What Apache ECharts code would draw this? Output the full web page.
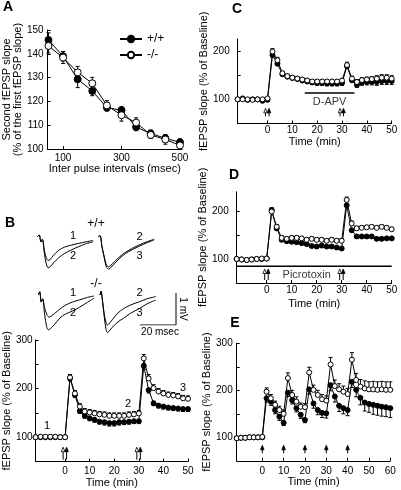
<!DOCTYPE html>
<html><head><meta charset="utf-8">
<script src="https://cdn.jsdelivr.net/npm/echarts@6/dist/echarts.min.js"></script>
<style>html,body{margin:0;padding:0;background:#fff}#c{width:401px;height:490px}</style>
</head><body><div id="c"></div>
<script>
// ---------- Panel A (paired-pulse) ----------
const aX = [50,100,150,200,250,300,350,400,450,500];
const aFilled = [145.8,139.0,129.3,124.4,117.4,116.3,109.2,106.5,104.5,102.8];
const aOpen = [143.3,138.4,132.2,127.6,118.3,114.2,111.1,105.9,104.0,101.5];
const aFilledErr = [3,2,3.5,2,1.5,1.5,1.5,1.5,1.5,1.5];
const aOpenErr = [3,2.5,2.5,2.5,2,2.5,2,1.5,2,1.5];
const aXLabels = [100,300,500];

// ---------- Time bases ----------
const tB = [-12,-10,-8,-6,-4,-2,0,2,4,6,8,10,12,14,16,18,20,22,24,26,28,30,32,34,36,38,40,42,44,46,48,50];
const tE = [-12,-10,-8,-6,-4,-2,0,2,4,6,8,10,12,14,16,18,20,22,24,26,28,30,32,34,36,38,40,42,44,46,48,50,52,54,56,58,60];
const timeLabels50 = [0,10,20,30,40,50];
const timeLabels60 = [0,10,20,30,40,50,60];

// ---------- Panel B ----------
const bFilled = [100,100,100,100,100,100,100, 221,187,154,144,139,136,132,131,129,129,131,131,132,133,133, 247,197,170,165,163,161,160,159,158,158];
const bOpen = [100,101,101,101,101,100,100, 223,190,163,153,151,149,147,146,144,144,144,144,146,147,149, 262,221,201,194,190,187,186,184,180,179];
const bOpenErr = [0,0,0,0,0,0,0, 6,6,6,6,6,6,6,6,6,6,6,6,6,6,6, 8,8,7,6,6,6,6,6,6,6];
const bFilledErr = [0,0,0,0,0,0,0, 5,5,5,5,5,5,5,6,6,6,6,5,5,5,5, 7,6,5,5,5,5,5,5,5,5];
const bTetanus = [0,30];

// ---------- Panel C ----------
const cOpen = [100,100,100,99,100,100,102, 199,181,154,148,145,143,141,139,137,137,137,137,137,137,139, 171,143,136,140,141,142,143,145,145,143];
const cFilled = [100,102,99,100,100,97,99, 192,174,152,147,144,142,139,137,135,134,134,133,133,133,134, 169,140,130,135,136,136,136,138,138,138];
const cOpenErr = [0,0,0,0,0,0,0, 6,6,4,4,4,4,4,4,4,4,4,4,4,4,4, 6,5,5,5,5,5,6,6,6,6];
const cFilledErr = [0,0,0,0,0,0,0, 4,4,3,3,3,3,3,4,4,5,5,5,5,5,5, 5,5,5,6,6,6,7,7,7,7];
const cTetanus = [0,30];
const apvStart = 15, apvEnd = 35, apvLevel = 113, apvLabelAt = 25;

// ---------- Panel D ----------
const dOpen = [100,99,98,99,100,101,101, 199,167,144,142,144,144,143,140,142,140,140,138,140,138,138, 223,174,164,165,166,167,165,167,165,162];
const dFilled = [100,99,98,99,100,100,101, 202,164,140,137,136,135,133,131,127,126,128,126,126,124,122, 212,160,147,147,147,147,142,142,143,143];
const dOpenErr = [0,0,0,0,0,0,0, 8,5,4,4,4,4,4,4,4,4,4,4,4,4,4, 6,5,4,4,4,4,4,4,4,4];
const dFilledErr = [0,0,0,0,0,0,0, 4,4,3,3,3,3,3,3,3,3,3,3,3,3,3, 4,4,3,3,3,3,3,3,3,3];
const dTetanus = [0,30];
const picroStart = -12, picroEnd = 50, picroLevel = 85, picroLabelAt = 16;

// ---------- Panel E ----------
const eOpen = [98,99,99,100,100,100,101, 197,183,169,158,150, 226,190,176,165,164, 238,201,190,181,178, 255,209,202,197,192, 265,222,208,204,202,202,201,202,201,201];
const eFilled = [98,99,99,100,100,100,100, 183,176,158,144,131, 195,179,162,148,137, 202,172,158,152,151, 211,187,167,162,158, 218,201,184,174,171,169,167,165,164,162];
const eOpenErr = [0,0,0,0,0,0,0, 8,8,8,8,8, 11,10,10,8,8, 11,10,10,10,10, 15,13,12,12,12, 15,14,15,16,16,17,17,17,17,17];
const eFilledErr = [0,0,0,0,0,0,0, 8,8,8,8,6, 8,8,8,8,6, 10,10,10,10,10, 12,12,12,12,12, 12,15,15,18,18,20,20,20,20,20];
const eTetanus = [0,10,20,30,40];

// ---------- Traces (ms, mV) ----------
const wtL1 = [[0,0],[1.1,0.05],[2,-0.16],[2.8,-0.08],[4,-0.45],[5,-0.66],[6,-0.74],[7,-0.72],[9,-0.58],[12,-0.42],[15,-0.33],[19,-0.26],[23,-0.21],[27,-0.16],[31,-0.12]];
const wtL2 = [[0,0],[1.1,0.05],[2,-0.16],[2.8,-0.08],[4,-0.55],[5,-0.85],[6,-0.97],[7,-0.95],[9,-0.82],[12,-0.65],[15,-0.53],[19,-0.41],[23,-0.31],[27,-0.22],[31,-0.16]];
const wtR2 = [[0,0],[1,0.03],[2,-0.3],[3,-0.55],[4.5,-0.88],[5.6,-0.94],[6.5,-0.92],[9,-0.78],[12,-0.62],[15,-0.49],[19,-0.36],[23,-0.25],[27,-0.16],[31,-0.08]];
const wtR3 = [[0,0],[1,0.03],[2,-0.3],[3,-0.58],[4.5,-0.95],[5.6,-1.01],[6.5,-0.99],[9,-0.84],[12,-0.67],[15,-0.53],[19,-0.40],[23,-0.29],[27,-0.19],[31,-0.10]];
const koL1 = [[0,0],[0.8,0.1],[1.6,-0.22],[2.4,-0.12],[3.5,-0.4],[4.8,-0.62],[6,-0.69],[7,-0.67],[9,-0.58],[12,-0.44],[15,-0.32],[19,-0.22],[23,-0.15],[27,-0.08],[31,-0.03]];
const koL2 = [[0,0],[0.8,0.1],[1.6,-0.22],[2.4,-0.12],[3.5,-0.6],[4.6,-0.98],[5.6,-1.09],[6.6,-1.06],[9,-0.92],[12,-0.72],[15,-0.60],[19,-0.50],[23,-0.38],[27,-0.24],[31,-0.10]];
const koR2 = [[0,0],[0.6,0.12],[1.2,-0.1],[2.4,-0.6],[3.4,-0.88],[4.1,-0.94],[5,-0.9],[7,-0.76],[10,-0.56],[13,-0.43],[17,-0.31],[22,-0.21],[26,-0.12],[31,-0.05]];
const koR3 = [[0,0],[0.6,0.12],[1.2,-0.1],[2.4,-0.7],[3.4,-1.08],[4.1,-1.17],[5,-1.13],[7,-1.0],[10,-0.84],[13,-0.73],[17,-0.57],[22,-0.42],[26,-0.28],[31,-0.16]];
const scaleBar = [[0,0],[20,0],[20,1]]; // 20 ms, 1 mV

const F = "'Liberation Sans', Arial, Helvetica, sans-serif";
const chart = echarts.init(document.getElementById('c'), null, {renderer:'canvas'});

const axisLine = {onZero:false, lineStyle:{color:'#000', width:1}};
function valueAxis(gi, min, max, ticks, labels, margin, extra){
  return Object.assign({type:'value', gridIndex:gi, min, max, axisLine,
    axisTick:{show:true, inside:true, length:3, customValues:ticks, lineStyle:{color:'#000'}},
    axisLabel:{customValues:labels, color:'#000', fontSize:10, fontFamily:F, margin},
    splitLine:{show:false}}, extra||{});
}
const nameStyle = {color:'#000', fontSize:11, fontFamily:F};
function timeXAxis(gi, max, labels, margin, gap){
  return valueAxis(gi, -12, max, labels, labels, margin, {name:'Time (min)', nameLocation:'middle', nameGap:gap, nameTextStyle:nameStyle});
}
function fepspYAxis(gi, max, ticks, labels, margin, gap){
  return valueAxis(gi, 50, max, ticks, labels, margin, {name:'fEPSP slope (% of Baseline)', nameLocation:'middle', nameGap:gap, nameTextStyle:nameStyle});
}
function hiddenAxis(gi, min, max){ return {type:'value', gridIndex:gi, min, max, show:false}; }

function lineSeries(name, gi, xs, ys, open, size){
  return {type:'line', name, xAxisIndex:gi, yAxisIndex:gi, data:xs.map((x,i)=>[x,ys[i]]),
    symbol:'circle', symbolSize:size, showSymbol:true, lineStyle:{color:'#000', width:1},
    itemStyle: open ? {color:'#fff', borderColor:'#000', borderWidth:1} : {color:'#000', borderColor:'#000', borderWidth:1},
    z: open ? 4 : 3, emphasis:{disabled:true}, silent:true};
}
function errSeries(gi, xs, ys, es, mode){
  return {type:'custom', xAxisIndex:gi, yAxisIndex:gi, data:xs.map((x,i)=>[x,ys[i],es[i]]), silent:true, z:2, clip:false,
    renderItem:(p, api)=>{
      const x=api.value(0), y=api.value(1), e=api.value(2);
      if(!e) return null;
      const lo = mode==='up' ? y : y-e;
      const hi = mode==='down' ? y : y+e;
      const a=api.coord([x,lo]), b=api.coord([x,hi]);
      const ch=[{type:'line', shape:{x1:a[0],y1:a[1],x2:b[0],y2:b[1]}, style:{stroke:'#000', lineWidth:1}}];
      const w=2;
      if(mode!=='up') ch.push({type:'line', shape:{x1:a[0]-w,y1:a[1],x2:a[0]+w,y2:a[1]}, style:{stroke:'#000', lineWidth:1}});
      if(mode!=='down') ch.push({type:'line', shape:{x1:b[0]-w,y1:b[1],x2:b[0]+w,y2:b[1]}, style:{stroke:'#000', lineWidth:1}});
      return {type:'group', children:ch};
    }};
}
function arrowSeries(gi, times, dbl, tipOff, tailOff){
  return {type:'custom', xAxisIndex:gi, yAxisIndex:gi, data:times.map(t=>[t,100]), silent:true, z:5, clip:false,
    renderItem:(p, api)=>{
      const c=api.coord([api.value(0), api.value(1)]);
      const xs = dbl ? [c[0]-2, c[0]+1.5] : [c[0]];
      const ch=[];
      const tip=c[1]+tipOff, tail=c[1]+tailOff;
      xs.forEach((x,k)=>{
        ch.push({type:'line', shape:{x1:x,y1:tail,x2:x,y2:tip+3}, style:{stroke:'#000', lineWidth:1}});
        ch.push({type:'polygon', shape:{points:[[x,tip],[x-1.8,tip+4.5],[x+1.8,tip+4.5]]}, style:{fill:(dbl&&k===0)?'#fff':'#000', stroke:'#000', lineWidth:0.8}});
      });
      return {type:'group', children:ch};
    }};
}
function barSeries(gi, x0, x1, lvl, labelAt, text, w){
  return [{type:'line', xAxisIndex:gi, yAxisIndex:gi, data:[[x0,lvl],[x1,lvl]], symbol:'none', lineStyle:{color:'#000', width:w}, silent:true, z:2},
    {type:'scatter', xAxisIndex:gi, yAxisIndex:gi, data:[[labelAt,lvl]], symbolSize:0, silent:true,
     label:{show:true, formatter:text, position:'bottom', distance:3, color:'#000', fontSize:11, fontFamily:F}}];
}
function traceSeries(gi, pts){
  return {type:'line', xAxisIndex:gi, yAxisIndex:gi, data:pts, symbol:'none', smooth:0.3, lineStyle:{color:'#000', width:1}, silent:true};
}

const grids = [
  {left:45, top:30, width:137, height:119},          // 0 A
  {left:31, top:340, width:157, height:121.5},       // 1 B
  {left:237.7, top:39, width:154, height:84.5},      // 2 C
  {left:236.7, top:191.8, width:155, height:91.2},   // 3 D
  {left:236.7, top:343.3, width:153.6, height:117.5},// 4 E
  {left:37.3, top:231.9, width:57.6, height:44.8},   // 5 +/+ left traces
  {left:98.3, top:231.9, width:57.6, height:44.8},   // 6 +/+ right traces
  {left:38.3, top:290.2, width:57.6, height:44.8},   // 7 -/- left traces
  {left:100, top:290.2, width:57.6, height:44.8},    // 8 -/- right traces
  {left:140, top:293, width:36, height:32}           // 9 scale bar
];

const xAxes = [
  valueAxis(0, 47, 507, aXLabels, aXLabels, 4, {name:'Inter pulse intervals (msec)', nameLocation:'middle', nameGap:14, nameTextStyle:nameStyle}),
  timeXAxis(1, 50, timeLabels50, 5, 14),
  timeXAxis(2, 50, timeLabels50, 2, 12),
  timeXAxis(3, 50, timeLabels50, 2, 15),
  timeXAxis(4, 60, timeLabels60, 5, 14),
  hiddenAxis(5,0,32), hiddenAxis(6,0,32), hiddenAxis(7,0,32), hiddenAxis(8,0,32), hiddenAxis(9,0,20)
];
const yAxes = [
  valueAxis(0, 100, 150, [100,110,120,130,140,150], [100,110,120,130,140,150], 4,
    {name:'Second fEPSP slope\n(% of the first fEPSP slope)', nameLocation:'middle', nameGap:22, nameTextStyle:Object.assign({lineHeight:11}, nameStyle)}),
  fepspYAxis(1, 300, [100,150,200,250,300], [100,200,300], 3, 18),
  fepspYAxis(2, 225, [100,150,200], [100,200], 8, 20),
  fepspYAxis(3, 240, [100,150,200], [100,200], 8, 20),
  fepspYAxis(4, 300, [100,150,200,250,300], [100,200,300], 4, 20),
  hiddenAxis(5,-1.25,0.15), hiddenAxis(6,-1.25,0.15), hiddenAxis(7,-1.25,0.15), hiddenAxis(8,-1.25,0.15), hiddenAxis(9,0,1)
];

const series = [
  // A
  errSeries(0, aX, aFilled, aFilledErr, 'both'),
  errSeries(0, aX, aOpen, aOpenErr, 'both'),
  lineSeries('+/+', 0, aX, aFilled, false, 7),
  lineSeries('-/-', 0, aX, aOpen, true, 7),
  // B
  errSeries(1, tB, bFilled, bFilledErr, 'down'),
  errSeries(1, tB, bOpen, bOpenErr, 'up'),
  lineSeries('B +/+', 1, tB, bFilled, false, 5),
  lineSeries('B -/-', 1, tB, bOpen, true, 5),
  arrowSeries(1, bTetanus, true, 10, 22.5),
  // C
  errSeries(2, tB, cFilled, cFilledErr, 'down'),
  errSeries(2, tB, cOpen, cOpenErr, 'up'),
  lineSeries('C +/+', 2, tB, cFilled, false, 5),
  lineSeries('C -/-', 2, tB, cOpen, true, 5),
  arrowSeries(2, cTetanus, true, 9, 17),
  ...barSeries(2, apvStart, apvEnd, apvLevel, apvLabelAt, 'D-APV', 1.5),
  // D
  errSeries(3, tB, dFilled, dFilledErr, 'down'),
  errSeries(3, tB, dOpen, dOpenErr, 'up'),
  lineSeries('D +/+', 3, tB, dFilled, false, 5),
  lineSeries('D -/-', 3, tB, dOpen, true, 5),
  arrowSeries(3, dTetanus, true, 10, 21),
  ...barSeries(3, picroStart, picroEnd, picroLevel, picroLabelAt, 'Picrotoxin', 1.5),
  // E
  errSeries(4, tE, eFilled, eFilledErr, 'down'),
  errSeries(4, tE, eOpen, eOpenErr, 'up'),
  lineSeries('E +/+', 4, tE, eFilled, false, 5),
  lineSeries('E -/-', 4, tE, eOpen, true, 5),
  arrowSeries(4, eTetanus, false, 8, 16),
  // traces
  traceSeries(5, wtL1), traceSeries(5, wtL2),
  traceSeries(6, wtR2), traceSeries(6, wtR3),
  traceSeries(7, koL1), traceSeries(7, koL2),
  traceSeries(8, koR2), traceSeries(8, koR3),
  {type:'line', xAxisIndex:9, yAxisIndex:9, data:scaleBar, symbol:'none', lineStyle:{color:'#000', width:1}, silent:true}
];

function txt(x, y, s, size, bold, rot){
  const e = {type:'text', x, y, silent:true, style:{text:s, fill:'#000', font:(bold?'bold ':'')+size+'px '+F, textAlign:'center', textVerticalAlign:'middle', align:'center', verticalAlign:'middle'}};
  if(rot) e.rotation = rot;
  return e;
}
const graphic = [
  txt(8, 7, 'A', 14, true), txt(10, 223, 'B', 14, true), txt(237, 9, 'C', 14, true), txt(234, 175, 'D', 14, true), txt(235, 323, 'E', 14, true),
  txt(96, 224, '+/+', 12), txt(96, 284, '-/-', 12),
  txt(73, 236, '1', 11), txt(73, 256, '2', 11), txt(139.5, 237, '2', 11), txt(139.5, 256, '3', 11),
  txt(73, 293, '1', 11), txt(73, 313, '2', 11), txt(139.5, 293, '2', 11), txt(139.5, 313, '3', 11),
  txt(183, 309, '1 mV', 10, false, -Math.PI/2), txt(160, 332, '20 msec', 10),
  txt(47, 426, '1', 11), txt(128, 404, '2', 11), txt(183, 388, '3', 11)
];

chart.setOption({
  animation:false,
  backgroundColor:'#fff',
  textStyle:{fontFamily:F},
  grid:grids, xAxis:xAxes, yAxis:yAxes, series, graphic,
  legend:{data:['+/+','-/-'], left:114, top:28, orient:'vertical', itemWidth:22, itemHeight:8, itemGap:4,
    textStyle:{color:'#000', fontSize:12, fontFamily:F}, selectedMode:false}
});
</script></body></html>
